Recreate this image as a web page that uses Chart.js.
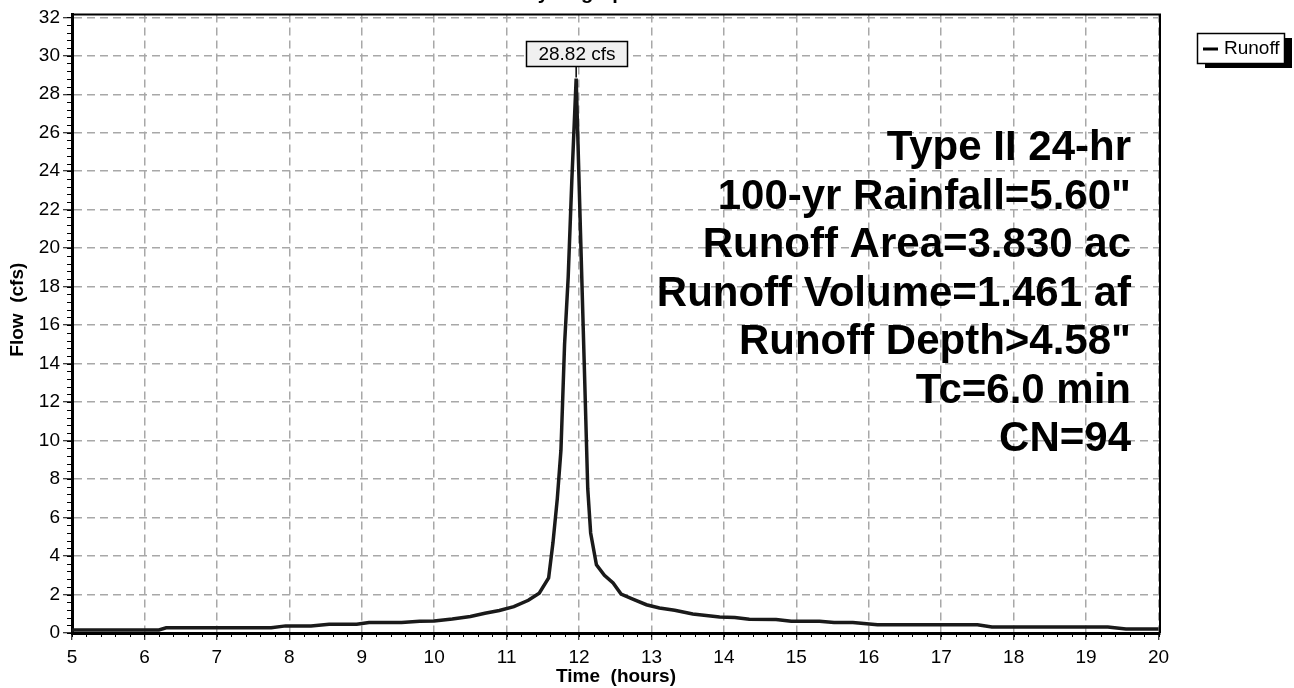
<!DOCTYPE html>
<html>
<head>
    <meta charset="utf-8">
    <title>Hydrograph</title>
    <script src="https://cdn.jsdelivr.net/npm/chart.js"></script>
    <style>
        body { margin: 0; background: #fff; }
        canvas { display: block; }
    </style>
</head>
<body>
    <canvas id="hydroChart" width="1294" height="688"></canvas>
    <script>
        // hydrograph: time (hours) / flow (cfs)
        const times = [5.0, 6.2, 6.3, 7.75, 7.95, 8.3, 8.55, 8.93, 9.1, 9.55, 9.8, 10.0, 10.25, 10.5, 10.7, 10.9,
            11.1, 11.3, 11.45, 11.58, 11.64, 11.7, 11.75, 11.8, 11.85, 11.9, 11.96, 12.02, 12.07, 12.12, 12.16,
            12.24, 12.35, 12.47, 12.58, 12.75, 12.93, 13.11, 13.32, 13.57, 13.94, 14.15, 14.35, 14.72, 14.93,
            15.32, 15.52, 15.78, 16.12, 17.5, 17.7, 19.3, 19.55, 20.0];
        const flows = [0.16, 0.16, 0.27, 0.27, 0.37, 0.37, 0.45, 0.45, 0.55, 0.55, 0.61, 0.63, 0.73, 0.86, 1.03, 1.17,
            1.37, 1.70, 2.07, 2.86, 4.7, 7.0, 9.5, 15.0, 18.5, 23.5, 28.82, 20.8, 14.2, 7.5, 5.2,
            3.55, 3.0, 2.6, 2.02, 1.75, 1.47, 1.3, 1.18, 0.99, 0.83, 0.81, 0.71, 0.70, 0.61,
            0.61, 0.54, 0.54, 0.43, 0.43, 0.31, 0.31, 0.21, 0.21];

        const xTickValues = [5, 6, 7, 8, 9, 10, 11, 12, 13, 14, 15, 16, 17, 18, 19, 20];
        const yTickValues = [0, 2, 4, 6, 8, 10, 12, 14, 16, 18, 20, 22, 24, 26, 28, 30, 32];
        const xMinorStep = 0.2;
        const yMinorStep = 0.4;

        const seriesName = 'Runoff';
        const peakUnit = 'cfs';
        const yTitle = 'Flow  (cfs)';
        const infoLines = ['Type II 24-hr', '100-yr Rainfall=5.60"', 'Runoff Area=3.830 ac',
            'Runoff Volume=1.461 af', 'Runoff Depth>4.58"', 'Tc=6.0 min', 'CN=94'];

        const FONT = "'Liberation Sans', Arial, sans-serif";
        Chart.defaults.font.family = FONT;
        Chart.defaults.color = '#000';

        // minor ticks, frame, titles, text block, peak label and legend
        const extras = {
            id: 'extras',
            afterDraw(chart) {
                const ctx = chart.ctx;
                const area = chart.chartArea;
                const x = chart.scales.x;
                const y = chart.scales.y;
                ctx.save();

                // minor ticks
                ctx.strokeStyle = '#000';
                ctx.lineWidth = 1;
                ctx.beginPath();
                const x0 = xTickValues[0], x1 = xTickValues[xTickValues.length - 1];
                for (let i = 0; x0 + i * xMinorStep <= x1 + 1e-9; i++) {
                    const px = Math.round(x.getPixelForValue(x0 + i * xMinorStep)) + 0.5;
                    ctx.moveTo(px, area.bottom);
                    ctx.lineTo(px, area.bottom + 4);
                }
                const y0 = yTickValues[0], y1 = yTickValues[yTickValues.length - 1];
                for (let i = 0; y0 + i * yMinorStep <= y1 + 1e-9; i++) {
                    const py = Math.round(y.getPixelForValue(y0 + i * yMinorStep)) + 0.5;
                    ctx.moveTo(area.left - 5, py);
                    ctx.lineTo(area.left, py);
                }
                ctx.stroke();

                // thin top / right frame
                ctx.lineWidth = 2;
                ctx.beginPath();
                ctx.moveTo(area.left, area.top);
                ctx.lineTo(area.right, area.top);
                ctx.lineTo(area.right, area.bottom);
                ctx.stroke();

                // chart title (mostly cut off at the top edge)
                ctx.fillStyle = '#000';
                ctx.font = 'bold 20px ' + FONT;
                ctx.textAlign = 'center';
                ctx.textBaseline = 'alphabetic';
                ctx.fillText('Hydrograph', area.right / 2, -1);

                // y axis title, sits a bit above the middle of the axis
                ctx.save();
                ctx.translate(18, (area.top + area.bottom) / 2 - 14);
                ctx.rotate(-Math.PI / 2);
                ctx.font = 'bold 19px ' + FONT;
                ctx.textBaseline = 'middle';
                ctx.fillText(yTitle, 0, 0);
                ctx.restore();

                // text block
                ctx.font = 'bold 42px ' + FONT;
                ctx.textAlign = 'right';
                ctx.textBaseline = 'alphabetic';
                infoLines.forEach((line, i) => {
                    ctx.fillText(line, area.right - 29, 160 + i * 48.5);
                });

                // peak label
                let iMax = 0;
                flows.forEach((f, i) => { if (f > flows[iMax]) iMax = i; });
                const pkX = x.getPixelForValue(times[iMax]);
                const pkY = y.getPixelForValue(flows[iMax]);
                const label = flows[iMax].toFixed(2) + ' ' + peakUnit;
                ctx.font = '19px ' + FONT;
                const bw = Math.round(ctx.measureText(label).width + 24);
                const bh = 25;
                const bx = Math.round(pkX - bw / 2) + 0.5;
                const by = Math.round(pkY - 12 - bh) + 0.5;
                ctx.fillStyle = '#f0f0f0';
                ctx.fillRect(bx, by, bw, bh);
                ctx.lineWidth = 1.5;
                ctx.strokeRect(bx, by, bw, bh);
                ctx.beginPath();
                ctx.moveTo(pkX, by + bh);
                ctx.lineTo(pkX, pkY - 1);
                ctx.stroke();
                ctx.fillStyle = '#000';
                ctx.textAlign = 'center';
                ctx.textBaseline = 'middle';
                ctx.fillText(label, bx + bw / 2, by + bh / 2 + 1);

                // legend with drop shadow
                const lx = 1197, ly = 33, lw = 87, lh = 30;
                ctx.fillStyle = '#000';
                ctx.fillRect(lx + 8, ly + 5, lw, lh);
                ctx.fillStyle = '#fff';
                ctx.fillRect(lx, ly, lw, lh);
                ctx.lineWidth = 1.5;
                ctx.strokeRect(lx + 0.5, ly + 0.5, lw, lh);
                ctx.lineWidth = 3;
                ctx.beginPath();
                ctx.moveTo(lx + 6, ly + lh / 2 + 1);
                ctx.lineTo(lx + 21, ly + lh / 2 + 1);
                ctx.stroke();
                ctx.fillStyle = '#000';
                ctx.font = '19px ' + FONT;
                ctx.textAlign = 'left';
                ctx.fillText(seriesName, lx + 27, ly + lh / 2 + 1);

                ctx.restore();
            }
        };

        const ctx = document.getElementById('hydroChart').getContext('2d');
        const hydroChart = new Chart(ctx, {
            type: 'line',
            data: {
                datasets: [{
                    label: seriesName,
                    data: times.map((t, i) => ({ x: t, y: flows[i] })),
                    borderColor: '#1a1a1a',
                    borderWidth: 3.5,
                    pointRadius: 0,
                    tension: 0,
                    fill: false
                }]
            },
            options: {
                responsive: false,
                animation: false,
                layout: { padding: { top: 12, right: 134, left: 0, bottom: 0 } },
                plugins: {
                    legend: { display: false },
                    tooltip: { enabled: false }
                },
                scales: {
                    x: {
                        type: 'linear',
                        min: 5,
                        max: 20.02,
                        afterBuildTicks: (scale) => { scale.ticks = xTickValues.map(v => ({ value: v })); },
                        afterFit: (scale) => { scale.height = 55; },
                        ticks: { font: { size: 19 }, padding: 6, maxRotation: 0, autoSkip: false },
                        grid: { color: '#a8a8a8', lineWidth: 1.5, tickColor: '#000', tickLength: 7, tickWidth: 1 },
                        border: { color: '#000', width: 3, dash: [8, 5] },
                        title: { display: true, text: 'Time  (hours)', font: { size: 19, weight: 'bold' }, padding: 0 }
                    },
                    y: {
                        min: 0,
                        max: 32.15,
                        afterBuildTicks: (scale) => { scale.ticks = yTickValues.map(v => ({ value: v })); },
                        afterFit: (scale) => { scale.width = 72; },
                        ticks: { font: { size: 19 }, padding: 3, autoSkip: false },
                        grid: { color: '#a8a8a8', lineWidth: 1.5, tickColor: '#000', tickLength: 9, tickWidth: 1 },
                        border: { color: '#000', width: 3, dash: [8, 5] }
                    }
                }
            },
            plugins: [extras]
        });
    </script>
</body>
</html>
